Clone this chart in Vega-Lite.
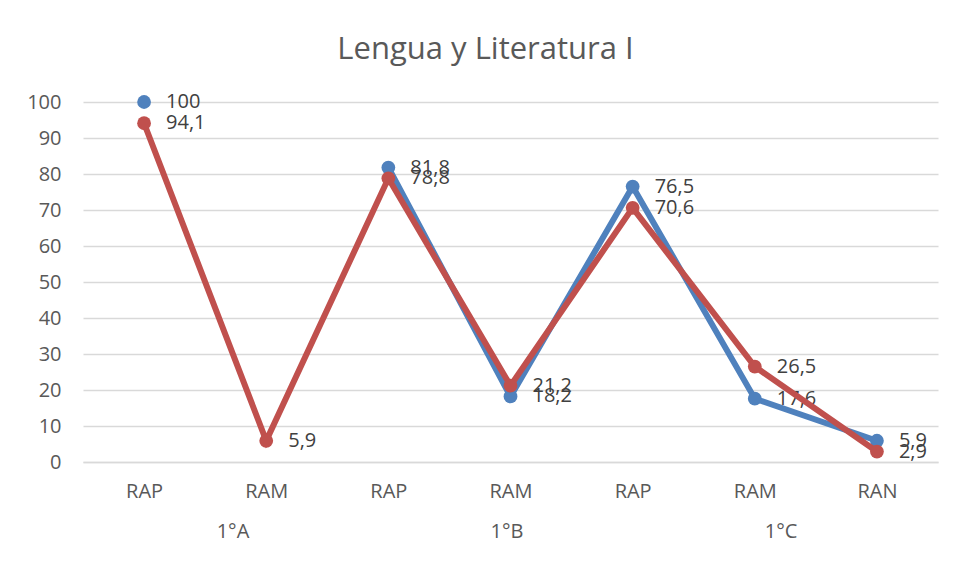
{
  "$schema": "https://vega.github.io/schema/vega-lite/v6.json",
  "width": 855,
  "height": 360,
  "autosize": {"type": "none"},
  "padding": {"left": 83, "top": 102, "right": 19, "bottom": 113},
  "background": "white",
  "config": {
    "locale": {"number": {"decimal": ",", "thousands": ".", "grouping": [3], "currency": ["", " €"]}},
    "view": {"stroke": null},
    "font": "Open Sans"
  },
  "title": {
    "text": "Lengua y Literatura I",
    "font": "Open Sans",
    "fontSize": 31,
    "fontWeight": "normal",
    "color": "#595959",
    "anchor": "middle",
    "dx": -25,
    "baseline": "alphabetic",
    "offset": 0
  },
  "data": {
    "values": [
      {"cat": "RAP 1°A", "serie": "Serie 1", "valor": 100},
      {"cat": "RAM 1°A", "serie": "Serie 1", "valor": null},
      {"cat": "RAP 1°B", "serie": "Serie 1", "valor": 81.8},
      {"cat": "RAM 1°B", "serie": "Serie 1", "valor": 18.2},
      {"cat": "RAP 1°C", "serie": "Serie 1", "valor": 76.5},
      {"cat": "RAM 1°C", "serie": "Serie 1", "valor": 17.6},
      {"cat": "RAN 1°C", "serie": "Serie 1", "valor": 5.9},
      {"cat": "RAP 1°A", "serie": "Serie 2", "valor": 94.1},
      {"cat": "RAM 1°A", "serie": "Serie 2", "valor": 5.9},
      {"cat": "RAP 1°B", "serie": "Serie 2", "valor": 78.8},
      {"cat": "RAM 1°B", "serie": "Serie 2", "valor": 21.2},
      {"cat": "RAP 1°C", "serie": "Serie 2", "valor": 70.6},
      {"cat": "RAM 1°C", "serie": "Serie 2", "valor": 26.5},
      {"cat": "RAN 1°C", "serie": "Serie 2", "valor": 2.9}
    ]
  },
  "layer": [
    {
      "encoding": {
        "x": {
          "field": "cat",
          "type": "ordinal",
          "sort": null,
          "scale": {"type": "point", "padding": 0.5},
          "axis": {
            "orient": "bottom",
            "title": null,
            "labelExpr": "split(datum.label, ' ')[0]",
            "labelAngle": 0,
            "labelFont": "Open Sans",
            "labelFontSize": 20,
            "labelColor": "#595959",
            "labelPadding": 19,
            "ticks": false,
            "grid": false,
            "domainColor": "#d9d9d9",
            "domainWidth": 1.5
          }
        },
        "y": {
          "field": "valor",
          "type": "quantitative",
          "scale": {"domain": [0, 100], "nice": false},
          "axis": {
            "title": null,
            "values": [0, 10, 20, 30, 40, 50, 60, 70, 80, 90, 100],
            "labelFont": "Open Sans",
            "labelFontSize": 20,
            "labelColor": "#595959",
            "labelPadding": 22,
            "ticks": false,
            "domain": false,
            "gridColor": "#d9d9d9",
            "gridWidth": 1.5
          }
        },
        "color": {
          "field": "serie",
          "type": "nominal",
          "scale": {"domain": ["Serie 1", "Serie 2"], "range": ["#4F81BD", "#C0504D"]},
          "legend": null
        }
      },
      "layer": [
        {
          "transform": [{"filter": "datum.serie === 'Serie 1'"}],
          "layer": [
            {"mark": {"type": "line", "strokeWidth": 6, "invalid": "break-paths-show-domains"}},
            {"transform": [{"filter": "isValid(datum.valor)"}], "mark": {"type": "circle", "size": 190, "opacity": 1}},
            {
              "transform": [{"filter": "isValid(datum.valor)"}],
              "mark": {"type": "text", "align": "left", "baseline": "middle", "dx": 22, "fontSize": 20, "font": "Open Sans"},
              "encoding": {"text": {"field": "valor", "type": "quantitative", "format": ".1~f"}, "color": {"value": "#404040"}}
            }
          ]
        },
        {
          "transform": [{"filter": "datum.serie === 'Serie 2'"}],
          "layer": [
            {"mark": {"type": "line", "strokeWidth": 6, "invalid": "break-paths-show-domains"}},
            {"transform": [{"filter": "isValid(datum.valor)"}], "mark": {"type": "circle", "size": 190, "opacity": 1}},
            {
              "transform": [{"filter": "isValid(datum.valor)"}],
              "mark": {"type": "text", "align": "left", "baseline": "middle", "dx": 22, "fontSize": 20, "font": "Open Sans"},
              "encoding": {"text": {"field": "valor", "type": "quantitative", "format": ".1~f"}, "color": {"value": "#404040"}}
            }
          ]
        }
      ]
    },
    {
      "data": {"values": [{"grupo": "1°A"}, {"grupo": "1°B"}, {"grupo": "1°C"}]},
      "mark": {"type": "text", "text": ""},
      "encoding": {
        "x": {
          "field": "grupo",
          "type": "ordinal",
          "sort": null,
          "scale": {"type": "point", "padding": 0.56},
          "axis": {
            "orient": "bottom",
            "title": null,
            "offset": 40,
            "labelAngle": 0,
            "labelFont": "Open Sans",
            "labelFontSize": 20,
            "labelColor": "#595959",
            "labelPadding": 19,
            "labelOffset": -4,
            "ticks": false,
            "grid": false,
            "domain": false
          }
        }
      }
    }
  ],
  "resolve": {"scale": {"x": "independent"}}
}
